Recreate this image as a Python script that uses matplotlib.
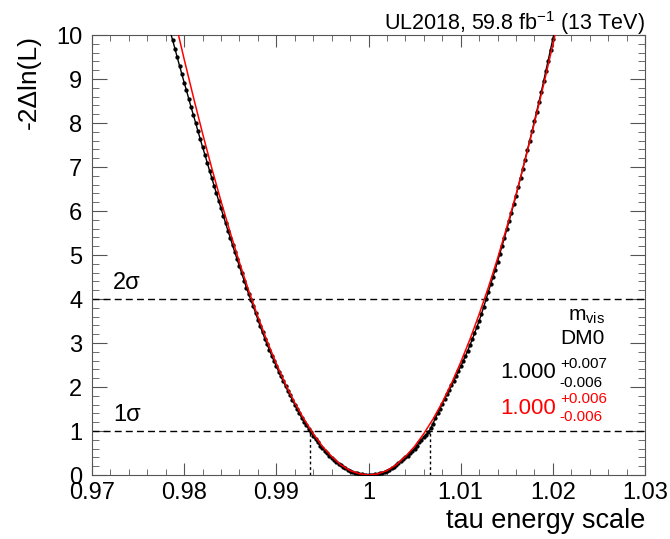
import numpy as np
import matplotlib
matplotlib.use("Agg")
from matplotlib import pyplot as plt
from matplotlib.ticker import MultipleLocator

plt.rcParams['font.family'] = ['Liberation Sans', 'DejaVu Sans']
plt.rcParams['mathtext.fontset'] = 'custom'
plt.rcParams['mathtext.rm'] = 'Liberation Sans'
plt.rcParams['mathtext.it'] = 'Liberation Sans:italic'

# likelihood scan (black points)
scan_x = [0.97850, 0.97875, 0.97900, 0.97925, 0.97950, 0.97975, 0.98000, 0.98025, 0.98050, 0.98075,
          0.98100, 0.98125, 0.98150, 0.98175, 0.98200, 0.98225, 0.98250, 0.98275, 0.98300, 0.98325,
          0.98350, 0.98375, 0.98400, 0.98425, 0.98450, 0.98475, 0.98500, 0.98525, 0.98550, 0.98575,
          0.98600, 0.98625, 0.98650, 0.98675, 0.98700, 0.98725, 0.98750, 0.98775, 0.98800, 0.98825,
          0.98850, 0.98875, 0.98900, 0.98925, 0.98950, 0.98975, 0.99000, 0.99025, 0.99050, 0.99075,
          0.99100, 0.99125, 0.99150, 0.99175, 0.99200, 0.99225, 0.99250, 0.99275, 0.99300, 0.99325,
          0.99350, 0.99375, 0.99400, 0.99425, 0.99450, 0.99475, 0.99500, 0.99525, 0.99550, 0.99575,
          0.99600, 0.99625, 0.99650, 0.99675, 0.99700, 0.99725, 0.99750, 0.99775, 0.99800, 0.99825,
          0.99850, 0.99875, 0.99900, 0.99925, 0.99950, 0.99975, 1.00000,
          1.00025, 1.00050, 1.00075, 1.00100, 1.00125, 1.00150, 1.00175, 1.00200, 1.00225, 1.00250,
          1.00275, 1.00300, 1.00325, 1.00350, 1.00375, 1.00400, 1.00425, 1.00450, 1.00475, 1.00500,
          1.00525, 1.00550, 1.00575, 1.00600, 1.00625, 1.00650, 1.00675, 1.00700, 1.00725, 1.00750,
          1.00775, 1.00800, 1.00825, 1.00850, 1.00875, 1.00900, 1.00925, 1.00950, 1.00975, 1.01000,
          1.01025, 1.01050, 1.01075, 1.01100, 1.01125, 1.01150, 1.01175, 1.01200, 1.01225, 1.01250,
          1.01275, 1.01300, 1.01325, 1.01350, 1.01375, 1.01400, 1.01425, 1.01450, 1.01475, 1.01500,
          1.01525, 1.01550, 1.01575, 1.01600, 1.01625, 1.01650, 1.01675, 1.01700, 1.01725, 1.01750,
          1.01775, 1.01800, 1.01825, 1.01850, 1.01875, 1.01900, 1.01925, 1.01950, 1.01975, 1.02000,
          1.02025, 1.02050]
scan_y = [10.07, 9.88, 9.69, 9.49, 9.30, 9.11, 8.92, 8.74, 8.55, 8.36,
          8.18, 8.00, 7.81, 7.63, 7.45, 7.28, 7.10, 6.92, 6.75, 6.57,
          6.40, 6.23, 6.06, 5.89, 5.72, 5.55, 5.39, 5.22, 5.06, 4.90,
          4.74, 4.58, 4.42, 4.26, 4.11, 3.97, 3.83, 3.68, 3.53, 3.38,
          3.24, 3.10, 2.97, 2.84, 2.71, 2.59, 2.47, 2.35, 2.24, 2.13,
          2.02, 1.91, 1.81, 1.70, 1.60, 1.50, 1.40, 1.30, 1.21, 1.13,
          1.05, 0.97, 0.89, 0.81, 0.74, 0.67, 0.61, 0.55, 0.49, 0.44,
          0.39, 0.34, 0.30, 0.26, 0.22, 0.185, 0.15, 0.125, 0.10, 0.075,
          0.055, 0.038, 0.025, 0.014, 0.006, 0.002, 0.0,
          0.002, 0.006, 0.014, 0.025, 0.038, 0.055, 0.077, 0.10, 0.125, 0.15,
          0.185, 0.22, 0.27, 0.32, 0.36, 0.40, 0.44, 0.49, 0.54, 0.60,
          0.67, 0.74, 0.80, 0.86, 0.91, 0.97, 1.06, 1.17, 1.29, 1.40,
          1.51, 1.62, 1.73, 1.83, 1.93, 2.04, 2.14, 2.25, 2.36, 2.47,
          2.58, 2.70, 2.82, 2.95, 3.08, 3.22, 3.36, 3.50, 3.66, 3.82,
          3.99, 4.16, 4.33, 4.50, 4.67, 4.85, 5.03, 5.21, 5.39, 5.58,
          5.77, 5.96, 6.15, 6.35, 6.55, 6.76, 6.96, 7.17, 7.38, 7.60,
          7.82, 8.04, 8.26, 8.48, 8.71, 8.95, 9.18, 9.42, 9.66, 9.90,
          10.14, 10.39]

# fitted curve (red)
fit_x = [0.979, 0.980, 0.981, 0.982, 0.983, 0.984, 0.985, 0.986, 0.987, 0.988,
         0.989, 0.990, 0.991, 0.992, 0.993, 0.994, 0.995, 0.996, 0.997, 0.998,
         0.999, 1.000, 1.001, 1.002, 1.003, 1.004, 1.005, 1.006, 1.007, 1.008,
         1.009, 1.010, 1.011, 1.012, 1.013, 1.014, 1.015, 1.016, 1.017, 1.018,
         1.019, 1.020, 1.021]
fit_y = [10.34, 9.45, 8.59, 7.76, 6.97, 6.22, 5.51, 4.83, 4.19, 3.60,
         3.04, 2.53, 2.06, 1.64, 1.27, 0.94, 0.65, 0.42, 0.23, 0.10,
         0.03, 0.0, 0.026, 0.10, 0.23, 0.42, 0.65, 0.94, 1.27, 1.65,
         2.08, 2.56, 3.08, 3.65, 4.26, 4.92, 5.63, 6.37, 7.16, 8.00,
         8.87, 9.78, 10.74]

sigma_levels = [1, 4]
sigma_names = ["1\u03c3", "2\u03c3"]
cross_x = [0.9937, 1.0067]

fig = plt.figure(figsize=(6.7, 5.39), dpi=100)
ax = fig.add_axes([92/670, 64/539, 553/670, 440/539])

for lvl, name in zip(sigma_levels, sigma_names):
    ax.axhline(lvl, color="black", lw=1, ls=(0, (5, 3)))
    ax.text(0.9723, lvl + 0.12, name, fontsize=17, ha="left", va="bottom")
for cx in cross_x:
    ax.plot([cx, cx], [0, 1], color="black", lw=1, ls=(0, (2, 2)))

ax.plot(fit_x, fit_y, color="red", lw=1.1, zorder=4)
ax.plot(scan_x, scan_y, color="black", lw=1, marker="o", ms=2.1, zorder=3)

ax.set_xlim(0.97, 1.03)
ax.set_ylim(0, 10)
ax.xaxis.set_minor_locator(MultipleLocator(0.002))
ax.yaxis.set_major_locator(MultipleLocator(1))
ax.yaxis.set_minor_locator(MultipleLocator(0.2))
ax.set_xticks([0.97, 0.98, 0.99, 1.0, 1.01, 1.02, 1.03])
ax.set_xticklabels(["0.97", "0.98", "0.99", "1", "1.01", "1.02", "1.03"])
ax.tick_params(which="both", direction="in", top=True, right=True, labelsize=17, color="#555555")
ax.tick_params(axis="x", which="major", length=8.5, pad=5)
ax.tick_params(axis="x", which="minor", length=4.3)
ax.tick_params(axis="y", which="major", length=10.5, pad=7)
ax.tick_params(axis="y", which="minor", length=5)
for s in ax.spines.values():
    s.set_color("#555555")

ax.set_xlabel("tau energy scale", fontsize=19.5, loc="right", labelpad=3)
ax.set_ylabel("-2\u0394ln(L)", fontsize=19, loc="top", labelpad=11)

fig.text(645/670, 1 - 30/539, "UL2018, 59.8 fb$^{\\mathregular{-1}}$ (13 TeV)",
         fontsize=15.5, ha="right", va="baseline")

ax.text(1.02565, 3.61, "m$_{\\mathregular{vis}}$", fontsize=15, ha="right", va="center")
ax.text(1.02565, 3.11, "DM0", fontsize=15, ha="right", va="center")
ax.text(1.02033, 2.32, "1.000", fontsize=16, ha="right", va="center", color="black")
ax.text(1.02076, 2.52, "+0.007", fontsize=11, ha="left", va="center", color="black")
ax.text(1.02076, 2.09, "-0.006", fontsize=11, ha="left", va="center", color="black")
ax.text(1.02033, 1.52, "1.000", fontsize=16, ha="right", va="center", color="red")
ax.text(1.02076, 1.72, "+0.006", fontsize=11, ha="left", va="center", color="red")
ax.text(1.02076, 1.32, "-0.006", fontsize=11, ha="left", va="center", color="red")

fig.savefig("out.png", dpi=100)
